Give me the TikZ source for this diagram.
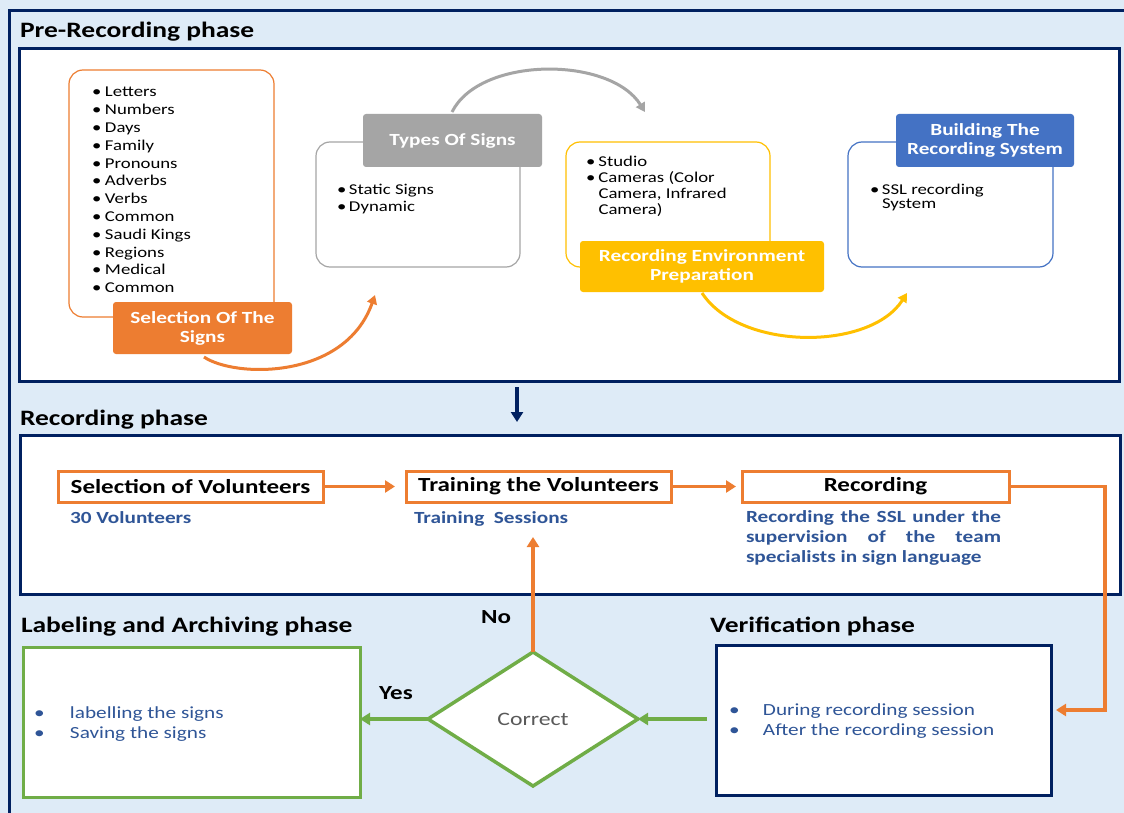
\documentclass[tikz,border=0pt]{standalone}
\usepackage{fontspec}
\setmainfont{Carlito}[FakeStretch=1.25]
\usetikzlibrary{arrows.meta,shapes.geometric}
\definecolor{navy}{HTML}{002060}
\definecolor{bgblue}{HTML}{DEEBF7}
\definecolor{orng}{HTML}{ED7D31}
\definecolor{yel}{HTML}{FFC000}
\definecolor{blu}{HTML}{4472C4}
\definecolor{gry}{HTML}{A5A5A5}
\definecolor{grn}{HTML}{70AD47}
\definecolor{tblue}{HTML}{2F5597}
\definecolor{tgray}{HTML}{595959}
\begin{document}
\begin{tikzpicture}[x=1pt,y=-1pt,
  every node/.style={inner sep=0pt,outer sep=0pt},
  title/.style={anchor=base west,font=\fontsize{22}{26}\selectfont\bfseries},
  outline/.style={draw,rounded corners=14pt,line width=1.2pt,fill=white},
  tag/.style={rounded corners=3pt,text=white,align=center,font=\fontsize{17}{19}\selectfont\bfseries},
  blist/.style={anchor=base west,align=left},
  panel/.style={draw=navy,line width=3pt,fill=white},
  stepbox/.style={draw=orng,line width=3pt,fill=white,minimum height=31pt,font=\fontsize{20}{24}\selectfont\bfseries},
  note/.style={anchor=base west,text=tblue,font=\fontsize{17}{20}\selectfont\bfseries},
  lbl/.style={font=\fontsize{20}{24}\selectfont\bfseries},
  oarrow/.style={draw=orng,line width=3.5pt,-{Triangle[width=12pt,length=10pt]}},
  garrow/.style={draw=grn,line width=3.5pt,-{Triangle[width=12pt,length=10pt]}},
  arc/.style={line width=3pt,-{Triangle[width=10pt,length=9pt]}}
]
\useasboundingbox (0,0) rectangle (1124,813);
\fill[bgblue] (0,0) rectangle (1124,813);
\draw[navy,line width=3pt] (9,813) -- (9,11) -- (1124,11);

% ---------- Pre-recording phase ----------
\node[title] (t1) at (20,38) {Pre-Recording phase};
\node[panel,minimum width=1100,minimum height=332] (pre) at (569,215) {};

\node[outline,draw=orng,minimum width=205,minimum height=247] (selo) at (171.5,193.5) {};
\node[outline,draw=gry,minimum width=204,minimum height=125] (typo) at (418,204.5) {};
\node[outline,draw=yel,minimum width=204,minimum height=125] (envo) at (668,204.5) {};
\node[outline,draw=blu,minimum width=205,minimum height=125] (bldo) at (950.5,204.5) {};

\node[blist,font=\fontsize{15}{17.8}\selectfont] (sell) at (92,97) {\begin{tabular}[t]{@{}p{13pt}@{}l@{}}
\textbullet & Letters\\ \textbullet & Numbers\\ \textbullet & Days\\ \textbullet & Family\\
\textbullet & Pronouns\\ \textbullet & Adverbs\\ \textbullet & Verbs\\ \textbullet & Common\\
\textbullet & Saudi Kings\\ \textbullet & Regions\\ \textbullet & Medical\\ \textbullet & Common
\end{tabular}};
\node[blist,font=\fontsize{15}{17}\selectfont] (typl) at (337,195) {\begin{tabular}[t]{@{}p{12pt}@{}l@{}}
\textbullet & Static Signs\\ \textbullet & Dynamic
\end{tabular}};
\node[blist,font=\fontsize{15}{16}\selectfont] (envl) at (586,167) {\begin{tabular}[t]{@{}p{12.5pt}@{}p{160pt}@{}}
\textbullet & Studio\\ \textbullet & Cameras (Color\newline Camera, Infrared\newline Camera)
\end{tabular}};
\node[blist,font=\fontsize{15}{14}\selectfont] (bldl) at (870,195) {\begin{tabular}[t]{@{}p{12pt}@{}p{160pt}@{}}
\textbullet & SSL recording\newline System
\end{tabular}};

\node[tag,fill=orng,minimum width=179,minimum height=52] (selt) at (202.5,328) {Selection Of The\\Signs};
\node[tag,fill=gry,minimum width=179,minimum height=53] (typt) at (452.5,140.5) {Types Of Signs};
\node[tag,fill=yel,minimum width=244,minimum height=51] (envt) at (702,266.5) {Recording Environment\\Preparation};
\node[tag,fill=blu,minimum width=178,minimum height=53] (bldt) at (985,140.5) {Building The\\Recording System};

\coordinate (oa) at (204,357);
\coordinate (ob) at (375,295);
\coordinate (ga) at (452,112);
\coordinate (gb) at (645,112);
\coordinate (ya) at (702,293);
\coordinate (yb) at (907,293);
\draw[arc,orng] (oa) .. controls (235,378) and (345,380) .. (ob);
\draw[arc,gry] (ga) .. controls (480,56) and (610,56) .. (gb);
\draw[arc,yel] (ya) .. controls (740,351) and (870,351) .. (yb);

% ---------- Recording phase ----------
\node[title] (t2) at (20,425) {Recording phase};
\node[panel,minimum width=1100,minimum height=159] (rec) at (570,514.5) {};

\coordinate (dx) at (517,0);
\draw[navy,line width=3.5pt,-{Triangle[width=12pt,length=10pt]},shorten <=6pt,shorten >=13pt] (pre.south -| dx) -- (rec.north -| dx);

\node[stepbox,minimum width=265] (vol) at (190.5,486.5) {Selection of Volunteers};
\node[stepbox,minimum width=265] (trn) at (538.5,486.5) {Training the Volunteers};
\node[stepbox,minimum width=267] (rcd) at (875.5,486.5) {Recording};

\node[note] (voln) at (70,523) {30 Volunteers};
\node[note] (trnn) at (414,523) {Training\ \ Sessions};
\node[anchor=base west,text=tblue,font=\fontsize{17}{20}\selectfont\bfseries] (rcdn) at (746,522)
  {\parbox[t]{255pt}{Recording the SSL under the\linebreak supervision of the team\linebreak specialists in sign language}};

\draw[oarrow,shorten >=11pt] (vol.east) -- (trn.west);
\draw[oarrow,shorten >=6pt] (trn.east) -- (rcd.west);

% ---------- Verification phase ----------
\node[title] (t3) at (710,632) {Verification phase};
\node[panel,minimum width=335,minimum height=150] (ver) at (883.5,720) {};
\node[blist,text=tblue,font=\fontsize{17}{20}\selectfont] (verl) at (729,715) {\begin{tabular}[t]{@{}p{34pt}@{}l@{}}
\textbullet & During recording session\\ \textbullet & After the recording session
\end{tabular}};

\coordinate (rturn) at (1105,710);
\draw[oarrow,shorten >=5pt] (rcd.east) -| (rturn) -- (ver.east |- rturn);

% ---------- Decision ----------
\node[diamond,draw=grn,line width=3.5pt,fill=white,minimum width=210,minimum height=134,
  text=tgray,font=\fontsize{19}{22}\selectfont] (cor) at (533,719) {Correct};
\draw[garrow,shorten <=9pt] (cor.east -| ver.west) -- (cor.east);

% ---------- Labeling phase ----------
\node[title] (t4) at (21,632) {Labeling and Archiving phase};
\node[draw=grn,line width=3pt,fill=white,minimum width=337,minimum height=150] (lab) at (191.5,722) {};
\node[blist,text=tblue,font=\fontsize{17}{20}\selectfont] (labl) at (34,718) {\begin{tabular}[t]{@{}p{36pt}@{}l@{}}
\textbullet & labelling the signs\\ \textbullet & Saving the signs
\end{tabular}};

\draw[garrow] (cor.west) -- (cor.west -| lab.east);
\coordinate (nofoot) at (533,537);
\draw[oarrow] (cor.north) -- (nofoot);
\node[lbl] (no) at (496,617) {No};
\node[lbl] (yes) at (396,693) {Yes};
\end{tikzpicture}
\end{document}
